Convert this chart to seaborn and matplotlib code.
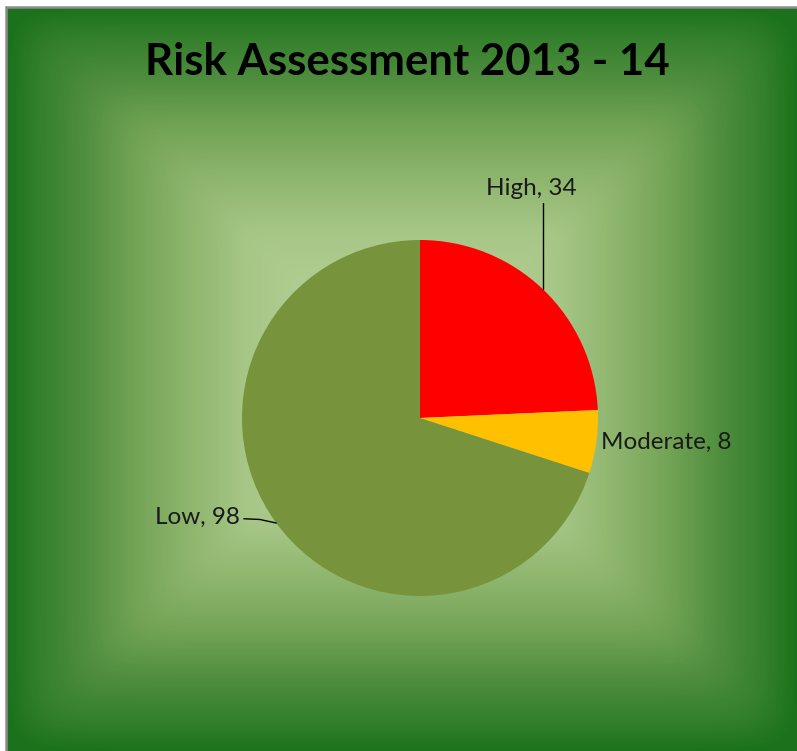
import numpy as np
import matplotlib
matplotlib.use("Agg")
import matplotlib.pyplot as plt
from matplotlib.colors import LinearSegmentedColormap
import seaborn as sns

# Risk counts for 2013-14
categories = ["High", "Moderate", "Low"]
counts = [34, 8, 98]
slice_colors = ["#ff0000", "#ffc000", "#77933c"]
title = "Risk Assessment 2013 - 14"

sns.set_theme(style="white")
plt.rcParams["font.family"] = ["Lato", "DejaVu Sans"]

W, H = 797, 751
fig = plt.figure(figsize=(W / 100, H / 100), dpi=100)
fig.patch.set_facecolor("white")

# Background: rectangular gradient, light centre to dark green edges
bg = fig.add_axes([0, 0, 1, 1], zorder=0)
x0, y0, x1, y1 = 7, 7, W, H
cx, cy = (x0 + x1) / 2, (y0 + y1) / 2
hw, hh = (x1 - x0) / 2, (y1 - y0) / 2
xs = np.arange(x0, x1) + 0.5
ys = np.arange(y0, y1) + 0.5
XX, YY = np.meshgrid(xs, ys)
p = 20.0
t = ((np.abs(XX - cx) / hw) ** p + (np.abs(YY - cy) / hh) ** p) ** (1 / p)
t = np.clip(t, 0, 1)
grad = LinearSegmentedColormap.from_list(
    "frame",
    [(0.0, "#c0daa4"), (0.4, "#a6c686"), (0.55, "#8cb46c"), (0.68, "#72a355"),
     (0.82, "#4c8c3c"), (0.92, "#34802c"), (1.0, "#1c721c")],
)
bg.imshow(t, cmap=grad, vmin=0, vmax=1, extent=(x0, x1, y1, y0),
          interpolation="bilinear", aspect="auto")
bg.plot([x0 - 1, x1], [y0, y0], color="#8c8c8c", lw=1.8)
bg.plot([x0 - 1, x0 - 1], [y0, y1], color="#8c8c8c", lw=1.8)
bg.set_xlim(0, W)
bg.set_ylim(H, 0)
bg.axis("off")

fig.text(407 / W, 1 - 62 / H, title, ha="center", va="center",
         fontsize=31.5, fontweight="bold", color="black")

# Pie chart
R = 178
pcx, pcy = 420, 418
ax = fig.add_axes([(pcx - R) / W, (H - pcy - R) / H, 2 * R / W, 2 * R / H], zorder=1)
wedges, _ = ax.pie(counts, colors=slice_colors, startangle=90, counterclock=False,
                   radius=1, wedgeprops=dict(linewidth=0))
ax.set_xlim(-1, 1)
ax.set_ylim(-1, 1)
ax.set_aspect("equal")
ax.axis("off")

lab = {c: f"{c}, {v}" for c, v in zip(categories, counts)}
fs = 17.5

# High: label above with a vertical leader to the slice edge
hx = 0.691
ax.plot([hx, hx], [np.sqrt(1 - hx ** 2), 1.208], color="black", lw=1.0, clip_on=False)
ax.text(0.624, 1.287, lab["High"], ha="center", va="center", fontsize=fs, color="#1a1a1a")

# Moderate: label to the right
ax.text(1.017, -0.135, lab["Moderate"], ha="left", va="center", fontsize=fs, color="#1a1a1a")

# Low: label to the left with a short leader
ly = -0.59
ax.plot([-0.99, -0.90, -np.sqrt(1 - ly ** 2)], [-0.566, -0.570, ly],
        color="black", lw=1.0, clip_on=False)
ax.text(-1.011, -0.556, lab["Low"], ha="right", va="center", fontsize=fs, color="#1a1a1a")

fig.savefig("out.png", dpi=100, facecolor=fig.get_facecolor())
